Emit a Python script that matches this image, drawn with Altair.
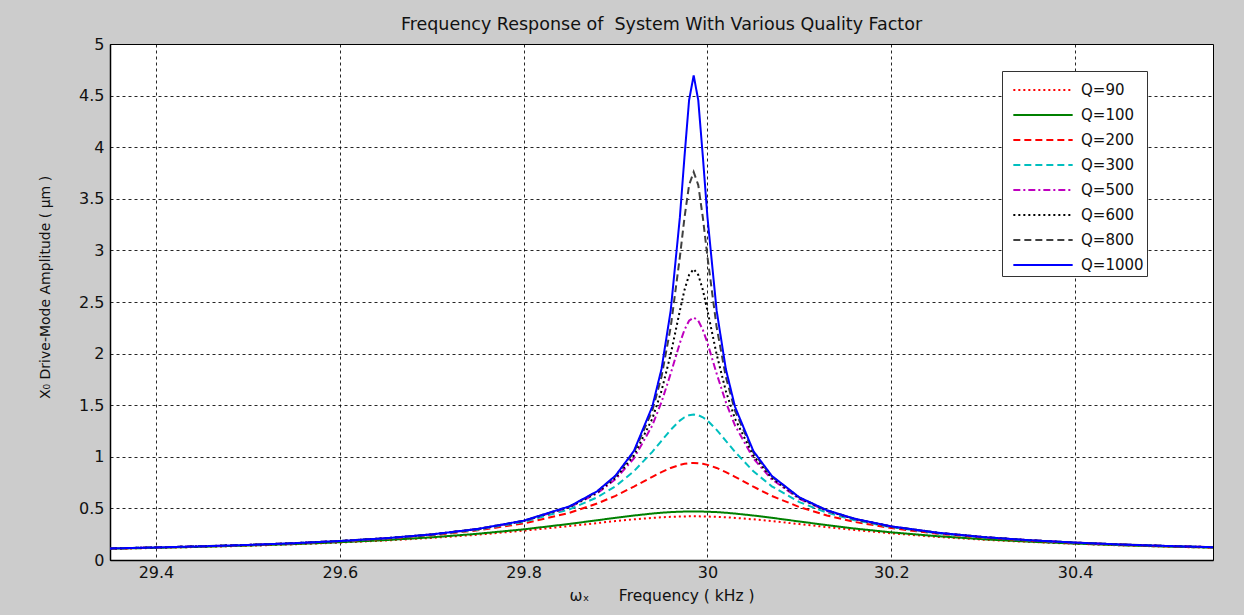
import altair as alt
import pandas as pd

freq = [29.35, 29.40, 29.45, 29.50, 29.55, 29.60, 29.65, 29.70, 29.75, 29.80,
        29.85, 29.88, 29.90, 29.92, 29.94, 29.95, 29.96, 29.97, 29.975, 29.98,
        29.985, 29.99, 29.995, 30.00, 30.01, 30.02, 30.03, 30.05, 30.07, 30.10,
        30.13, 30.16, 30.20, 30.25, 30.30, 30.35, 30.40, 30.45, 30.50, 30.55]

q90 = [0.108, 0.117, 0.127, 0.138, 0.152, 0.169, 0.189, 0.214, 0.245, 0.284,
       0.329, 0.358, 0.377, 0.394, 0.408, 0.414, 0.418, 0.421, 0.422, 0.423,
       0.423, 0.423, 0.422, 0.421, 0.418, 0.414, 0.408, 0.394, 0.377, 0.348,
       0.319, 0.291, 0.259, 0.224, 0.197, 0.175, 0.157, 0.142, 0.129, 0.119]
q100 = [0.109, 0.118, 0.128, 0.140, 0.154, 0.172, 0.193, 0.220, 0.254, 0.297,
        0.350, 0.385, 0.409, 0.431, 0.450, 0.458, 0.464, 0.468, 0.469, 0.470,
        0.470, 0.470, 0.469, 0.468, 0.464, 0.458, 0.450, 0.431, 0.409, 0.373,
        0.338, 0.305, 0.268, 0.231, 0.201, 0.178, 0.159, 0.143, 0.130, 0.120]
q200 = [0.111, 0.121, 0.132, 0.145, 0.161, 0.181, 0.206, 0.240, 0.287, 0.354,
        0.457, 0.547, 0.622, 0.711, 0.806, 0.852, 0.892, 0.922, 0.932, 0.938,
        0.940, 0.938, 0.932, 0.922, 0.892, 0.852, 0.806, 0.710, 0.621, 0.513,
        0.431, 0.369, 0.309, 0.255, 0.217, 0.188, 0.166, 0.149, 0.134, 0.123]
q300 = [0.112, 0.121, 0.132, 0.146, 0.162, 0.183, 0.209, 0.245, 0.294, 0.369,
        0.491, 0.607, 0.715, 0.860, 1.048, 1.155, 1.261, 1.351, 1.383, 1.403,
        1.410, 1.403, 1.383, 1.351, 1.261, 1.155, 1.048, 0.859, 0.714, 0.561,
        0.459, 0.386, 0.318, 0.260, 0.220, 0.190, 0.167, 0.150, 0.135, 0.123]
q500 = [0.112, 0.121, 0.133, 0.146, 0.163, 0.184, 0.211, 0.247, 0.299, 0.377,
        0.511, 0.646, 0.783, 0.985, 1.304, 1.530, 1.806, 2.103, 2.230, 2.319,
        2.350, 2.319, 2.230, 2.103, 1.806, 1.529, 1.303, 0.984, 0.781, 0.592,
        0.475, 0.396, 0.324, 0.263, 0.222, 0.192, 0.168, 0.150, 0.136, 0.124]
q600 = [0.112, 0.122, 0.133, 0.146, 0.163, 0.184, 0.211, 0.248, 0.299, 0.379,
        0.514, 0.654, 0.796, 1.013, 1.369, 1.639, 1.993, 2.417, 2.616, 2.763,
        2.819, 2.763, 2.616, 2.417, 1.992, 1.637, 1.368, 1.011, 0.794, 0.598,
        0.478, 0.397, 0.324, 0.264, 0.222, 0.192, 0.168, 0.150, 0.136, 0.124]
q800 = [0.112, 0.122, 0.133, 0.146, 0.163, 0.184, 0.211, 0.248, 0.301, 0.380,
        0.518, 0.662, 0.811, 1.043, 1.446, 1.776, 2.256, 2.937, 3.317, 3.633,
        3.760, 3.633, 3.317, 2.937, 2.255, 1.774, 1.445, 1.041, 0.809, 0.604,
        0.481, 0.399, 0.325, 0.265, 0.222, 0.192, 0.169, 0.150, 0.136, 0.124]
q1000 = [0.112, 0.122, 0.133, 0.146, 0.163, 0.184, 0.211, 0.248, 0.301, 0.381,
         0.520, 0.666, 0.818, 1.057, 1.487, 1.851, 2.417, 3.322, 3.907, 4.455,
         4.696, 4.455, 3.907, 3.322, 2.416, 1.850, 1.484, 1.055, 0.815, 0.607,
         0.482, 0.400, 0.326, 0.265, 0.222, 0.192, 0.169, 0.150, 0.136, 0.124]

series_names = ["Q=90", "Q=100", "Q=200", "Q=300", "Q=500", "Q=600", "Q=800", "Q=1000"]
series_values = [q90, q100, q200, q300, q500, q600, q800, q1000]
line_colors = ["#ff0000", "#008000", "#ff0000", "#00bfbf", "#bf00bf", "#000000", "#404040", "#0000ff"]
line_dashes = [[2, 3], [1, 0], [7, 4], [7, 4], [7, 3, 2, 3], [2, 3], [7, 4], [1, 0]]

x_ticks = [29.4, 29.6, 29.8, 30.0, 30.2, 30.4]
y_ticks = [0, 0.5, 1, 1.5, 2, 2.5, 3, 3.5, 4, 4.5, 5]

rows = []
for name, vals in zip(series_names, series_values):
    for f, v in zip(freq, vals):
        rows.append({"freq": f, "amp": v, "series": name})
df = pd.DataFrame(rows)

FONT = "DejaVu Sans"
NB = "\u00a0"

chart = alt.Chart(df).mark_line(strokeWidth=2, clip=True).encode(
    x=alt.X("freq:Q",
            scale=alt.Scale(domain=[29.35, 30.55], nice=False, zero=False),
            axis=alt.Axis(values=x_ticks, format="~g",
                          title="ωₓ" + NB * 6 + "Frequency" + NB + "(" + NB + "kHz" + NB + ")",
                          titleFontSize=15.5, titleBaseline="middle", titleY=35, labelPadding=4)),
    y=alt.Y("amp:Q",
            scale=alt.Scale(domain=[0, 5], nice=False),
            axis=alt.Axis(values=y_ticks, format="~g",
                          title="X₀ Drive-Mode Amplitude (" + NB + "μm" + NB + ")",
                          titleBaseline="middle", titleX=-65, titleY=243, labelPadding=6)),
    color=alt.Color("series:N",
                    scale=alt.Scale(domain=series_names, range=line_colors),
                    sort=series_names,
                    legend=alt.Legend(title=None, orient="none", legendX=892, legendY=27,
                                      fillColor="white", strokeColor="#333333",
                                      padding=3, symbolType="M-2,0H2", symbolSize=880,
                                      symbolOffset=22, symbolStrokeWidth=2, labelFontSize=15,
                                      labelFont=FONT, labelColor="#111111",
                                      rowPadding=1, labelOffset=22)),
    strokeDash=alt.StrokeDash("series:N",
                              scale=alt.Scale(domain=series_names, range=line_dashes),
                              sort=series_names, legend=None),
).properties(
    width=1103, height=516,
    padding={"left": 110, "top": 44, "right": 31, "bottom": 55},
    autosize="none",
    background="#cccccc",
    title=alt.TitleParams("Frequency Response of" + NB + " System With Various Quality Factor",
                          font=FONT, fontSize=17.5, fontWeight="normal", color="#111111",
                          anchor="middle", offset=3),
).configure_view(
    stroke="#000000", strokeWidth=1, fill="white"
).configure_axis(
    labelFont=FONT, labelFontSize=16, labelColor="#111111",
    titleFont=FONT, titleFontSize=14, titleColor="#111111", titleFontWeight="normal",
    domainColor="#000000", domainWidth=1.5,
    ticks=False,
    gridColor="#000000", gridDash=[3, 3], gridOpacity=0.85, gridWidth=1,
)

chart.save("out.html", embed_options={"renderer": "svg", "actions": False})
